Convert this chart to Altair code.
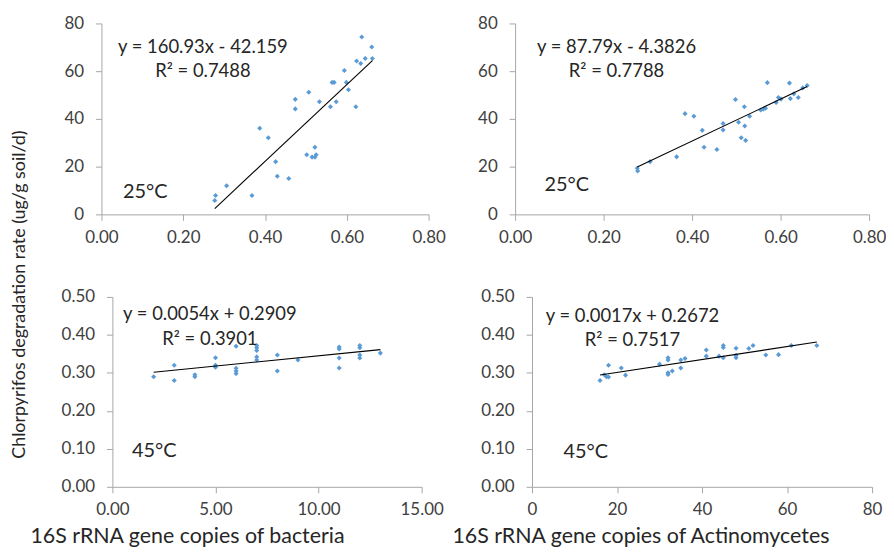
import altair as alt
import pandas as pd

# ---------------- data ----------------
# 25 °C, bacteria
tl_x = [0.6365, 0.661, 0.624, 0.634, 0.645, 0.6625, 0.594, 0.564, 0.569, 0.599, 0.604,
        0.507, 0.474, 0.474, 0.533, 0.560, 0.574, 0.622, 0.387, 0.408, 0.522, 0.502,
        0.515, 0.522, 0.525, 0.426, 0.430, 0.458, 0.306, 0.368, 0.279, 0.277]
tl_y = [74.3, 70.1, 64.3, 63.2, 65.3, 65.3, 60.3, 55.3, 55.3, 55.3, 52.2,
        51.2, 48.2, 44.2, 47.2, 45.1, 47.2, 45.1, 36.1, 32.1, 28.1, 25.0,
        24.0, 24.0, 25.0, 22.1, 16.0, 15.0, 12.0, 7.9, 7.9, 5.8]
# 25 °C, Actinomycetes
tr_x = [0.276, 0.277, 0.305, 0.365, 0.384, 0.404, 0.423, 0.427, 0.456, 0.470, 0.470,
        0.498, 0.505, 0.511, 0.521, 0.518, 0.519, 0.530, 0.555, 0.561, 0.566, 0.570,
        0.590, 0.595, 0.601, 0.620, 0.622, 0.630, 0.640, 0.650, 0.660]
tr_y = [19.3, 18.2, 22.1, 24.1, 42.2, 41.1, 35.2, 28.1, 27.2, 38.1, 35.4,
        48.1, 38.6, 32.1, 31.0, 45.1, 37.0, 41.1, 43.7, 44.1, 44.5, 55.2,
        46.9, 49.0, 48.3, 55.0, 48.5, 50.5, 49.0, 53.0, 54.0]
# 45 °C, bacteria
bl_x = [2, 3, 3, 4, 4, 5, 5, 5, 6, 6, 6, 6, 7, 7, 7, 7, 7, 8, 8, 9,
        11, 11, 11, 11, 12, 12, 12, 12, 13]
bl_y = [0.290, 0.320, 0.280, 0.295, 0.290, 0.340, 0.320, 0.315, 0.370, 0.312, 0.305, 0.298,
        0.372, 0.366, 0.359, 0.342, 0.334, 0.347, 0.305, 0.334,
        0.368, 0.363, 0.339, 0.313, 0.372, 0.366, 0.347, 0.339, 0.352]
# 45 °C, Actinomycetes
br_x = [16, 17, 17.5, 18, 18, 21, 22, 30, 32, 32, 32, 32, 33, 35, 35, 36, 41, 41, 44,
        45, 45, 45, 48, 48, 48, 51, 52, 55, 58, 61, 67]
br_y = [0.280, 0.295, 0.290, 0.320, 0.289, 0.313, 0.294, 0.323, 0.340, 0.334, 0.300, 0.296,
        0.305, 0.313, 0.334, 0.338, 0.360, 0.344, 0.344, 0.372, 0.367, 0.340, 0.365,
        0.346, 0.340, 0.364, 0.372, 0.347, 0.348, 0.372, 0.372]

# trend-line coefficients as printed on the chart
fits = {
    "tl": (160.93, -42.159, "y = 160.93x - 42.159", "R\u00b2 = 0.7488", "25\u00b0C"),
    "tr": (87.79, -4.3826, "y = 87.79x - 4.3826", "R\u00b2 = 0.7788", "25\u00b0C"),
    "bl": (0.0054, 0.2909, "y = 0.0054x + 0.2909", "R\u00b2 = 0.3901", "45\u00b0C"),
    "br": (0.0017, 0.2672, "y = 0.0017x + 0.2672", "R\u00b2 = 0.7517", "45\u00b0C"),
}

x_ticks_frac = [0.0, 0.2, 0.4, 0.6, 0.8]
x_ticks_bac = [0, 5, 10, 15]
x_ticks_act = [0, 20, 40, 60, 80]
y_ticks_top = [0, 20, 40, 60, 80]
y_ticks_bot = [0.0, 0.1, 0.2, 0.3, 0.4, 0.5]

y_title = "Chlorpyrifos degradation rate (ug/g soil/d)"
x_title_bac = "16S rRNA gene copies of bacteria"
x_title_act = "16S rRNA gene copies of Actinomycetes"

FONT = "Lato"
BLUE = "#5B9BD5"
TXT = "#262626"


def panel(xs, ys, key, xticks, xfmt, yticks, yfmt, w, h, eq_pos, r2_pos, temp_pos,
          shift=0, xtitle=None, title_x=0):
    """shift: empty pixels left of the plot area inside this cell"""
    slope, icpt, eq, r2, temp = fits[key]
    pts = pd.DataFrame({"x": xs, "y": ys})
    ln = pd.DataFrame({"x": [min(xs), max(xs)]})
    ln["y"] = slope * ln["x"] + icpt

    xaxis_kw = dict(values=xticks, format=xfmt, labelFlush=False, labelOverlap=False,
                    tickCount=len(xticks))
    if xtitle:
        xaxis_kw.update(title=xtitle, titleX=title_x + shift, titleY=50, titleAlign="center",
                        titleBaseline="middle", titleFont=FONT, titleFontSize=21.5,
                        titleFontWeight="normal", titleColor=TXT)
    else:
        xaxis_kw.update(title=None)
    xscale = alt.Scale(domain=[xticks[0], xticks[-1]], nice=False, zero=False,
                       range=[shift, shift + w])
    xenc = alt.X("x:Q", scale=xscale, axis=alt.Axis(**xaxis_kw))
    yaxis_kw = dict(values=yticks, format=yfmt, title=None, labelOverlap=False,
                    tickCount=len(yticks))
    if shift:
        yaxis_kw.update(offset=-shift)
    yenc = alt.Y("y:Q", scale=alt.Scale(domain=[yticks[0], yticks[-1]], nice=False),
                 axis=alt.Axis(**yaxis_kw))

    points = alt.Chart(pts).mark_point(shape="diamond", filled=True, size=26, opacity=1,
                                       color=BLUE).encode(x=xenc, y=yenc)
    line = alt.Chart(ln).mark_line(color="#000000", strokeWidth=1.1).encode(x="x:Q", y="y:Q")

    def label(txt, pos, size):
        return alt.Chart(pd.DataFrame({"t": [txt]})).mark_text(
            font=FONT, fontSize=size, color=TXT, align="center", baseline="middle"
        ).encode(x=alt.value(pos[0] + shift), y=alt.value(pos[1]), text="t:N")

    return alt.layer(points, line, label(eq, eq_pos, 18.5), label(r2, r2_pos, 18.5),
                     label(temp, temp_pos, 20)).properties(width=w + shift, height=h)


TL = panel(tl_x, tl_y, "tl", x_ticks_frac, ".2f", y_ticks_top, "d", 329, 192,
           (102, 24), (102, 48), (44, 170))
TR = panel(tr_x, tr_y, "tr", x_ticks_frac, ".2f", y_ticks_top, "d", 356, 192,
           (102, 24), (102, 48), (52, 162))
BL = panel(bl_x, bl_y, "bl", x_ticks_bac, ".2f", y_ticks_bot, ".2f", 311, 191,
           (98, 17), (98, 42), (42, 155), shift=11, xtitle=x_title_bac, title_x=75)
BR = panel(br_x, br_y, "br", x_ticks_act, "d", y_ticks_bot, ".2f", 342, 191,
           (101, 19), (101, 43), (54, 156), shift=17, xtitle=x_title_act, title_x=109)

chart = alt.concat(
    TL, TR, BL, BR,
    columns=2, spacing={"row": 83, "column": 87}, bounds="flush",
).properties(
    title=alt.TitleParams(y_title, orient="left", anchor="middle", font=FONT, fontSize=18,
                          fontWeight="normal", color=TXT, offset=0, dx=-14),
    padding={"left": 3, "top": 5, "right": 0, "bottom": 0},
    background="white",
).configure_axis(
    grid=False, domainColor="#a6a6a6", tickColor="#a6a6a6", tickSize=6, domainWidth=1,
    labelFont=FONT, labelFontSize=17, labelColor="#404040",
).configure_axisX(labelPadding=9).configure_axisY(labelPadding=12
).configure_view(strokeWidth=0)

chart.save("out.html", embed_options={"renderer": "svg", "actions": False})
